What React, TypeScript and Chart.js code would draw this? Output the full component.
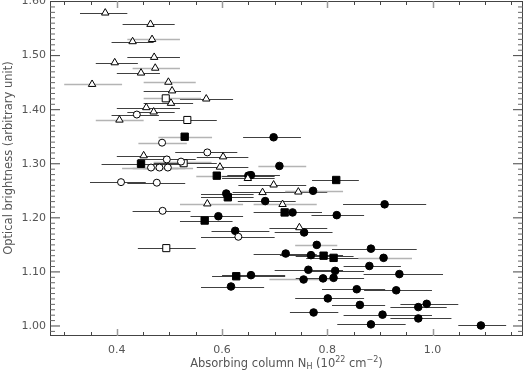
import React, { useEffect, useRef } from "react";
import { Chart, registerables } from "chart.js";

Chart.register(...registerables);

// Each point: [x, y, xLow, xHigh, grayBar (1) / darkBar (0)]
const openTriangles: number[][] = [
  [0.378, 1.579, 0.330, 0.420, 0],
  [0.464, 1.558, 0.411, 0.510, 0],
  [0.430, 1.526, 0.390, 0.470, 0],
  [0.467, 1.530, 0.420, 0.520, 1],
  [0.471, 1.497, 0.420, 0.520, 0],
  [0.396, 1.487, 0.360, 0.440, 0],
  [0.473, 1.477, 0.430, 0.520, 1],
  [0.446, 1.468, 0.400, 0.482, 0],
  [0.353, 1.447, 0.300, 0.410, 1],
  [0.498, 1.451, 0.451, 0.550, 1],
  [0.505, 1.435, 0.451, 0.560, 0],
  [0.570, 1.420, 0.520, 0.621, 0],
  [0.503, 1.412, 0.451, 0.545, 0],
  [0.456, 1.404, 0.400, 0.520, 0],
  [0.470, 1.396, 0.420, 0.510, 0],
  [0.405, 1.381, 0.360, 0.451, 1],
  [0.451, 1.315, 0.400, 0.500, 0],
  [0.602, 1.313, 0.552, 0.650, 0],
  [0.596, 1.294, 0.552, 0.650, 0],
  [0.649, 1.273, 0.600, 0.700, 0],
  [0.698, 1.261, 0.631, 0.760, 0],
  [0.677, 1.247, 0.620, 0.740, 0],
  [0.745, 1.248, 0.690, 0.800, 0],
  [0.572, 1.226, 0.520, 0.640, 1],
  [0.715, 1.225, 0.660, 0.780, 1],
  [0.747, 1.182, 0.690, 0.800, 0],
];

const openCircles: number[][] = [
  [0.438, 1.391, 0.390, 0.480, 0],
  [0.486, 1.339, 0.441, 0.533, 1],
  [0.572, 1.321, 0.511, 0.629, 0],
  [0.495, 1.308, 0.440, 0.550, 0],
  [0.522, 1.304, 0.470, 0.580, 1],
  [0.465, 1.293, 0.410, 0.517, 1],
  [0.481, 1.293, 0.430, 0.530, 1],
  [0.497, 1.293, 0.450, 0.545, 1],
  [0.408, 1.266, 0.349, 0.455, 0],
  [0.476, 1.265, 0.420, 0.530, 0],
  [0.487, 1.213, 0.430, 0.540, 0],
  [0.631, 1.165, 0.560, 0.700, 0],
];

const openSquares: number[][] = [
  [0.493, 1.421, 0.451, 0.560, 1],
  [0.534, 1.381, 0.480, 0.590, 0],
  [0.527, 1.301, 0.470, 0.590, 0],
  [0.494, 1.144, 0.440, 0.550, 0],
];

const filledSquares: number[][] = [
  [0.529, 1.350, 0.479, 0.581, 1],
  [0.446, 1.300, 0.371, 0.520, 0],
  [0.590, 1.278, 0.551, 0.640, 1],
  [0.817, 1.270, 0.771, 0.860, 0],
  [0.611, 1.238, 0.560, 0.660, 0],
  [0.567, 1.195, 0.520, 0.620, 0],
  [0.719, 1.210, 0.660, 0.780, 0],
  [0.793, 1.130, 0.740, 0.850, 0],
  [0.812, 1.126, 0.760, 0.870, 0],
  [0.627, 1.092, 0.581, 0.720, 0],
];

const filledCircles: number[][] = [
  [0.698, 1.349, 0.640, 0.750, 0],
  [0.709, 1.296, 0.669, 0.760, 1],
  [0.650, 1.278, 0.600, 0.700, 0],
  [0.655, 1.279, 0.610, 0.710, 0],
  [0.773, 1.250, 0.720, 0.830, 1],
  [0.608, 1.245, 0.560, 0.660, 0],
  [0.682, 1.231, 0.630, 0.740, 0],
  [0.734, 1.210, 0.680, 0.790, 0],
  [0.818, 1.205, 0.770, 0.870, 0],
  [0.593, 1.203, 0.540, 0.640, 0],
  [0.909, 1.225, 0.830, 0.988, 0],
  [0.756, 1.173, 0.700, 0.810, 0],
  [0.625, 1.176, 0.580, 0.690, 0],
  [0.780, 1.150, 0.739, 0.819, 1],
  [0.883, 1.143, 0.809, 0.970, 0],
  [0.721, 1.134, 0.660, 0.780, 0],
  [0.769, 1.131, 0.710, 0.830, 0],
  [0.907, 1.126, 0.859, 0.961, 1],
  [0.880, 1.111, 0.831, 0.940, 0],
  [0.764, 1.104, 0.700, 0.830, 0],
  [0.815, 1.102, 0.760, 0.870, 0],
  [0.937, 1.096, 0.869, 1.020, 0],
  [0.755, 1.086, 0.690, 0.810, 1],
  [0.792, 1.088, 0.740, 0.850, 0],
  [0.812, 1.089, 0.760, 0.870, 0],
  [0.856, 1.068, 0.790, 0.910, 0],
  [0.931, 1.066, 0.870, 0.999, 0],
  [0.801, 1.051, 0.739, 0.870, 0],
  [0.862, 1.039, 0.809, 0.910, 0],
  [0.989, 1.041, 0.939, 1.049, 0],
  [0.973, 1.035, 0.920, 1.027, 0],
  [0.774, 1.025, 0.729, 0.821, 0],
  [0.905, 1.021, 0.831, 0.999, 0],
  [0.973, 1.014, 0.920, 1.036, 0],
  [0.883, 1.003, 0.819, 0.949, 0],
  [1.092, 1.001, 1.049, 1.140, 0],
  [0.655, 1.094, 0.600, 0.720, 0],
  [0.617, 1.073, 0.560, 0.680, 0],
];

const X_MIN = 0.273;
const X_MAX = 1.172;
const Y_MIN = 0.9815;
const Y_MAX = 1.601;
const X_TICKS = [0.4, 0.6, 0.8, 1.0];
const Y_TICKS = [1.0, 1.1, 1.2, 1.3, 1.4, 1.5, 1.6];
const X_MINOR_STEP = 0.05;
const Y_MINOR_STEP = 0.01;

const X_TITLE_PARTS: [string, string][] = [
  ["Absorbing column N", "n"],
  ["H", "sub"],
  [" (10", "n"],
  ["22", "sup"],
  [" cm", "n"],
  ["\u22122", "sup"],
  [")", "n"],
];
const Y_TITLE = "Optical brightness (arbitrary unit)";

const FONT = "'DejaVu Sans', sans-serif";
const AXIS_COLOR = "#444444";
const TEXT_COLOR = "#555555";

const errorBarPlugin = {
  id: "errorBars",
  beforeDatasetsDraw(chart: any) {
    const { ctx } = chart;
    const xs = chart.scales.x;
    const ys = chart.scales.y;
    ctx.save();
    chart.data.datasets.forEach((ds: any) => {
      ds.rows.forEach((r: number[]) => {
        const py = Math.round(ys.getPixelForValue(r[1])) + 0.5;
        ctx.strokeStyle = r[4] ? "#b4b4b4" : "#404040";
        ctx.lineWidth = r[4] ? 1.5 : 1;
        ctx.beginPath();
        ctx.moveTo(xs.getPixelForValue(r[2]), py);
        ctx.lineTo(xs.getPixelForValue(r[3]), py);
        ctx.stroke();
      });
    });
    ctx.restore();
  },
};

const framePlugin = {
  id: "frame",
  afterDatasetsDraw(chart: any) {
    const { ctx, chartArea: a } = chart;
    const xs = chart.scales.x;
    const ys = chart.scales.y;
    ctx.save();
    ctx.lineWidth = 1;
    ctx.strokeStyle = AXIS_COLOR;
    ctx.strokeRect(a.left + 0.5, a.top + 0.5, a.right - a.left - 1, a.bottom - a.top - 1);
    for (let i = 0; ; i++) {
      const v = 0.3 + i * X_MINOR_STEP;
      if (v > X_MAX) break;
      const px = Math.round(xs.getPixelForValue(v)) + 0.5;
      const major = X_TICKS.some((t) => Math.abs(t - v) < 1e-6);
      const len = major ? 7 : 4;
      ctx.strokeStyle = major ? "#9a9a9a" : AXIS_COLOR;
      ctx.lineWidth = major ? 1.5 : 1;
      ctx.beginPath();
      ctx.moveTo(px, a.bottom);
      ctx.lineTo(px, a.bottom - len);
      ctx.moveTo(px, a.top);
      ctx.lineTo(px, a.top + len);
      ctx.stroke();
    }
    for (let i = 0; ; i++) {
      const v = 0.99 + i * Y_MINOR_STEP;
      if (v > Y_MAX) break;
      const py = ys.getPixelForValue(v);
      const major = Y_TICKS.some((t) => Math.abs(t - v) < 1e-6);
      const len = major ? 10 : 5;
      ctx.strokeStyle = major ? AXIS_COLOR : "#666666";
      ctx.lineWidth = 1;
      ctx.beginPath();
      ctx.moveTo(a.left, py);
      ctx.lineTo(a.left + len, py);
      ctx.moveTo(a.right, py);
      ctx.lineTo(a.right - len, py);
      ctx.stroke();
    }
    ctx.restore();
  },
  afterDraw(chart: any) {
    const { ctx, chartArea: a } = chart;
    ctx.save();
    ctx.fillStyle = TEXT_COLOR;
    ctx.textBaseline = "alphabetic";
    const big = `11.5px ${FONT}`;
    const small = `8px ${FONT}`;
    let total = 0;
    X_TITLE_PARTS.forEach(([t, k]) => {
      ctx.font = k === "n" ? big : small;
      total += ctx.measureText(t).width;
    });
    let cx = (a.left + a.right) / 2 - total / 2;
    const base = 367;
    X_TITLE_PARTS.forEach(([t, k]) => {
      ctx.font = k === "n" ? big : small;
      const dy = k === "sub" ? 2 : k === "sup" ? -5 : 0;
      ctx.fillText(t, cx, base + dy);
      cx += ctx.measureText(t).width;
    });
    ctx.translate(9, 158);
    ctx.rotate(-Math.PI / 2);
    ctx.font = big;
    ctx.textAlign = "center";
    ctx.textBaseline = "middle";
    ctx.fillText(Y_TITLE, 0, 0);
    ctx.restore();
  },
};

function toPoints(rows: number[][]) {
  return rows.map((r) => ({ x: r[0], y: r[1] }));
}

function zeroPadding(s: any) {
  s.paddingTop = 0;
  s.paddingBottom = 0;
  s.paddingLeft = 0;
  s.paddingRight = 0;
}

export default function App() {
  const ref = useRef<HTMLCanvasElement | null>(null);
  useEffect(() => {
    if (!ref.current) return;
    const mk = (rows: number[][], style: string, radius: number, filled: boolean) => ({
      data: toPoints(rows),
      rows,
      pointStyle: style,
      pointRadius: radius,
      pointBackgroundColor: filled ? "#000000" : "#ffffff",
      pointBorderColor: "#000000",
      pointBorderWidth: 1,
      showLine: false,
    });
    const chart = new Chart(ref.current, {
      type: "scatter",
      data: {
        datasets: [
          mk(openTriangles, "triangle", 4.3, false),
          mk(openCircles, "circle", 3.5, false),
          mk(openSquares, "rect", 5, false),
          mk(filledSquares, "rect", 5.2, true),
          mk(filledCircles, "circle", 3.8, true),
        ] as any,
      },
      options: {
        animation: false,
        responsive: false,
        maintainAspectRatio: false,
        layout: { autoPadding: false, padding: { top: 1, right: 1, left: 0, bottom: 0 } } as any,
        plugins: { legend: { display: false }, tooltip: { enabled: false } },
        scales: {
          x: {
            type: "linear",
            min: X_MIN,
            max: X_MAX,
            afterBuildTicks: (s: any) => {
              s.ticks = X_TICKS.map((v) => ({ value: v }));
            },
            afterFit: (s: any) => {
              s.height = 35;
              zeroPadding(s);
            },
            ticks: {
              callback: (v: any) => Number(v).toFixed(1),
              font: { family: FONT, size: 11 },
              color: TEXT_COLOR,
              padding: 8,
              maxRotation: 0,
              autoSkip: false,
            },
            grid: { display: false, drawTicks: false },
            border: { display: false },
          },
          y: {
            type: "linear",
            min: Y_MIN,
            max: Y_MAX,
            afterBuildTicks: (s: any) => {
              s.ticks = Y_TICKS.map((v) => ({ value: v }));
            },
            afterFit: (s: any) => {
              s.width = 50;
              zeroPadding(s);
            },
            ticks: {
              callback: (v: any) => Number(v).toFixed(2),
              font: { family: FONT, size: 11 },
              color: TEXT_COLOR,
              padding: 4,
              autoSkip: false,
            },
            grid: { display: false, drawTicks: false },
            border: { display: false },
          },
        },
      } as any,
      plugins: [errorBarPlugin, framePlugin],
    });
    return () => chart.destroy();
  }, []);
  return (
    <div style={{ position: "fixed", left: 0, top: 0, width: 524, height: 371, background: "#ffffff" }}>
      <canvas ref={ref} width={524} height={371} style={{ display: "block" }} />
    </div>
  );
}
